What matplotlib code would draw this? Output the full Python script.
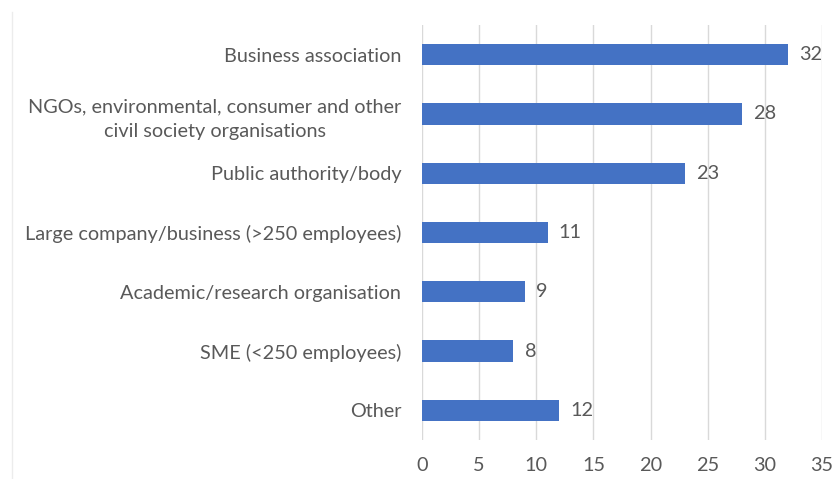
import matplotlib
matplotlib.use("Agg")
import matplotlib.pyplot as plt
from matplotlib.lines import Line2D

categories = [
    "Business association",
    "NGOs, environmental, consumer and other\ncivil society organisations",
    "Public authority/body",
    "Large company/business (>250 employees)",
    "Academic/research organisation",
    "SME (<250 employees)",
    "Other",
]
values = [32, 28, 23, 11, 9, 8, 12]
xticks = [0, 5, 10, 15, 20, 25, 30, 35]

plt.rcParams['font.family'] = ['Lato', 'DejaVu Sans']
text_color = '#595959'
fs = 14.3

fig = plt.figure(figsize=(8.35, 4.79), dpi=100)
ax = fig.add_axes([422/835, 1-440/479, 400/835, 415/479])

ypos = list(range(len(categories)))
ax.barh(ypos, values, height=0.36, color='#4472C4', zorder=3)
for y, v in zip(ypos, values):
    ax.annotate(str(v), (v, y), xytext=(8, 0), textcoords='offset points',
                va='center', ha='left', fontsize=fs, color=text_color)

ax.set_yticks(ypos)
ax.set_yticklabels(categories, fontsize=fs, color=text_color, linespacing=1.55)
for lbl in ax.get_yticklabels():
    lbl.set_multialignment('center')
ax.set_ylim(len(categories) - 0.5, -0.5)
ax.set_xlim(0, 35)
ax.set_xticks(xticks)
ax.set_xticklabels([str(t) for t in xticks], fontsize=fs, color=text_color)
ax.tick_params(axis='both', length=0)
ax.tick_params(axis='y', pad=15)
ax.tick_params(axis='x', pad=12)
ax.grid(axis='x', color='#d9d9d9', linewidth=1, zorder=0)
for s in ax.spines.values():
    s.set_visible(False)

fig.lines.append(Line2D([12/835, 12/835], [0, 1 - 12/479], transform=fig.transFigure,
                        color='#ececec', linewidth=1))

fig.savefig("out.png", dpi=100)
